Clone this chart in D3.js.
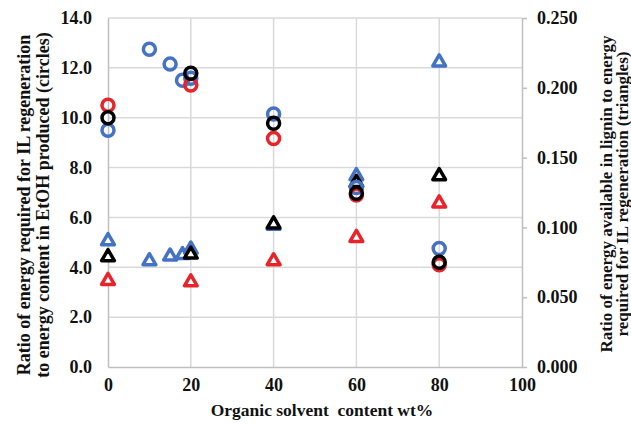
<!DOCTYPE html>
<html>
<head>
<meta charset="utf-8">
<script src="https://cdn.jsdelivr.net/npm/d3@7"></script>
<style>
    body { margin: 0; background: #fff; }
    text { font-family: "Liberation Serif", "Times New Roman", serif; font-weight: bold; fill: #111; }
</style>
</head>
<body>
<div class="chart-container"></div>
<script>
// x values (organic solvent wt%)
const blueX = [0, 10, 15, 18, 20, 40, 60, 80];
const redX = [0, 20, 40, 60, 80];
const blackX = [0, 20, 40, 60, 80];

// circles, left axis
const blueCircle = [9.5, 12.75, 12.15, 11.5, 11.58, 10.15, 7.2, 4.75];
const redCircle = [10.5, 11.31, 9.17, 6.9, 4.1];
const blackCircle = [10.0, 11.78, 9.78, 6.97, 4.2];

// triangles, right axis
const blueTriangle = [0.091, 0.0766, 0.080, 0.081, 0.085, 0.102, 0.1375, 0.219];
const redTriangle = [0.0625, 0.0615, 0.0766, 0.0933, 0.118];
const blackTriangle = [0.0795, 0.0814, 0.103, 0.1327, 0.1375];

const xTicks = [0, 20, 40, 60, 80, 100];
const leftTicks = [0, 2, 4, 6, 8, 10, 12, 14];
const rightTicks = [0, 0.05, 0.1, 0.15, 0.2, 0.25];

const svg_width = 631;
const svg_height = 427;
const chart_margin = { top: 18, right: 109, bottom: 60, left: 108 };
const chart_width = svg_width - (chart_margin.left + chart_margin.right);
const chart_height = svg_height - (chart_margin.top + chart_margin.bottom);

const svg = d3.select('.chart-container')
    .append('svg')
    .attr('width', svg_width)
    .attr('height', svg_height);
const g = svg.append('g')
    .attr('transform', `translate(${chart_margin.left},${chart_margin.top})`);

const xScale = d3.scaleLinear([0, 100], [0, chart_width]);
const yLeft = d3.scaleLinear([0, 14], [chart_height, 0]);
const yRight = d3.scaleLinear([0, 0.25], [chart_height, 0]);

// grid
g.selectAll('.hgrid')
    .data(leftTicks.filter(d => d > 0))
    .enter()
    .append('line')
    .attr('x1', 0)
    .attr('x2', chart_width)
    .attr('y1', d => yLeft(d))
    .attr('y2', d => yLeft(d))
    .style('stroke', '#d9d9d9')
    .style('stroke-width', 1.5);
g.selectAll('.vgrid')
    .data(xTicks.filter(d => d > 0 && d < 100))
    .enter()
    .append('line')
    .attr('x1', d => xScale(d))
    .attr('x2', d => xScale(d))
    .attr('y1', 0)
    .attr('y2', chart_height)
    .style('stroke', '#d9d9d9')
    .style('stroke-width', 1.5);

// axes
const xAxis = d3.axisBottom(xScale)
    .tickValues(xTicks)
    .tickSize(0)
    .tickPadding(11);
const xAxisDraw = g.append('g')
    .attr('transform', `translate(0,${chart_height})`)
    .call(xAxis);

const yAxis = d3.axisLeft(yLeft)
    .tickValues(leftTicks)
    .tickFormat(d3.format('.1f'))
    .tickSize(0)
    .tickPadding(16);
const yAxisDraw = g.append('g').call(yAxis);

const y2Axis = d3.axisRight(yRight)
    .tickValues(rightTicks)
    .tickFormat(d3.format('.3f'))
    .tickSize(5)
    .tickSizeOuter(0)
    .tickPadding(10);
const y2AxisDraw = g.append('g')
    .attr('transform', `translate(${chart_width},0)`)
    .call(y2Axis);

[xAxisDraw, yAxisDraw, y2AxisDraw].forEach(a => {
    a.select('.domain').style('stroke', '#bfbfbf').style('stroke-width', 1.5);
    a.selectAll('.tick line').style('stroke', '#bfbfbf').style('stroke-width', 1.5);
    a.selectAll('text')
        .style('font-family', '"Liberation Serif", serif')
        .style('font-weight', 'bold')
        .style('font-size', '18px')
        .style('fill', '#111');
});

// markers
const circleSeries = [
    { x: blueX, y: blueCircle, color: '#4472c4' },
    { x: redX, y: redCircle, color: '#e8242a' },
    { x: blackX, y: blackCircle, color: '#000' }
];
const triangleSeries = [
    { x: blueX, y: blueTriangle, color: '#4472c4' },
    { x: redX, y: redTriangle, color: '#e8242a' },
    { x: blackX, y: blackTriangle, color: '#000' }
];

const tri = d3.symbol().type(d3.symbolTriangle).size(70);

triangleSeries.forEach(s => {
    g.append('g')
        .selectAll('path')
        .data(s.x.map((x, i) => ({ x: x, y: s.y[i] })))
        .enter()
        .append('path')
        .attr('d', tri)
        .attr('transform', d => `translate(${xScale(d.x)},${yRight(d.y) + 1})`)
        .style('fill', '#fff')
        .style('stroke', s.color)
        .style('stroke-width', 3.5)
        .style('stroke-linejoin', 'round');
});

circleSeries.forEach(s => {
    g.append('g')
        .selectAll('circle')
        .data(s.x.map((x, i) => ({ x: x, y: s.y[i] })))
        .enter()
        .append('circle')
        .attr('cx', d => xScale(d.x))
        .attr('cy', d => yLeft(d.y))
        .attr('r', 6)
        .style('fill', 'none')
        .style('stroke', s.color)
        .style('stroke-width', 3.5);
});

// titles
svg.append('text')
    .attr('x', 322)
    .attr('y', 416)
    .attr('text-anchor', 'middle')
    .style('font-size', '17.5px')
    .text('Organic solvent\u00a0 content wt%');

const leftTitle = svg.append('text')
    .attr('transform', 'translate(30,205) rotate(-90)')
    .attr('text-anchor', 'middle')
    .style('font-size', '18px');
leftTitle.append('tspan').attr('x', 0).attr('y', 0)
    .text('Ratio of energy required for IL regeneration');
leftTitle.append('tspan').attr('x', 0).attr('y', 19)
    .text('to energy content in EtOH produced (circles)');

const rightTitle = svg.append('text')
    .attr('transform', 'translate(612,194) rotate(-90)')
    .attr('text-anchor', 'middle')
    .style('font-size', '17px');
rightTitle.append('tspan').attr('x', 0).attr('y', 0)
    .text('Ratio of energy available in lignin to energy');
rightTitle.append('tspan').attr('x', 0).attr('y', 16)
    .text('required for IL regeneration (triangles)');
</script>
</body>
</html>
